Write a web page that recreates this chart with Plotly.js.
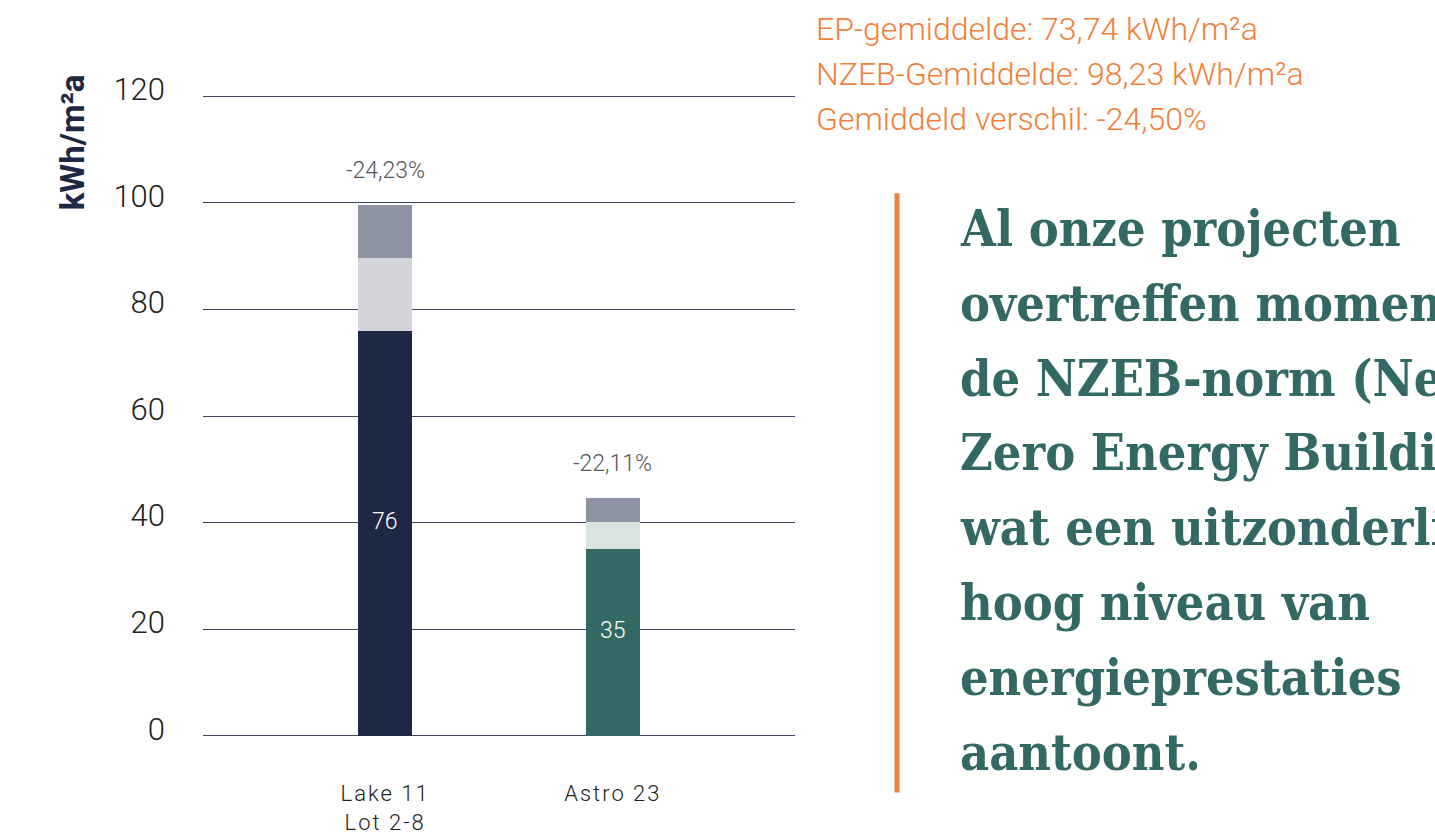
<!DOCTYPE html>
<html><head><meta charset="utf-8">
<script src="https://cdn.plot.ly/plotly-3.0.1.min.js"></script>
<style>body{margin:0;background:#fff}#c{width:1435px;height:836px}
.xtick text{letter-spacing:2px}</style>
</head><body><div id="c"></div>
<script>
const categories = ["Lake 11<br>Lot 2-8", "Astro 23"];
const epValues = [76, 35];
const marginValues = [13.7, 5.1];
const nzebTopValues = [9.9, 4.6];
const pctLabels = ["-24,23%", "-22,11%"];
const baseColors = ["#1E2744", "#336964"];
const midColors = ["#D3D4D9", "#D9E3E1"];
const topColor = "#8D93A2";
const yTicks = [0, 20, 40, 60, 80, 100, 120];
const statLines = ["EP-gemiddelde: 73,74 kWh/m²a", "NZEB-Gemiddelde: 98,23 kWh/m²a", "Gemiddeld verschil: -24,50%"];
const quoteLines = ["Al onze projecten", "overtreffen momenteel", "de NZEB-norm (Nearly", "Zero Energy Building),", "wat een uitzonderlijk", "hoog niveau van", "energieprestaties", "aantoont."];

const W = 1435, H = 836;
// plot area in pixels: y=0 at 736, y=120 at 96 ; range padded by 1 unit each side
const unit = 640 / 120;
const L = 203, R = 795, T = 96 - unit, B = 736 + unit;
const px = x => (x - L) / (R - L);
const py = y => (B - y) / (B - T);

const traces = [
  {type:'bar', x:categories, y:epValues, marker:{color:baseColors}, width:0.237, hoverinfo:'skip'},
  {type:'bar', x:categories, y:marginValues, marker:{color:midColors}, width:0.237, hoverinfo:'skip'},
  {type:'bar', x:categories, y:nzebTopValues, marker:{color:topColor}, width:0.237, hoverinfo:'skip'}
];

const ann = [];
categories.forEach((c, i) => {
  const total = epValues[i] + marginValues[i] + nzebTopValues[i];
  ann.push({x:c, y:total, xref:'x', yref:'y', text:pctLabels[i], showarrow:false,
    yanchor:'bottom', yshift:19, font:{family:'Roboto', size:23, color:'#555', weight:300}});
  ann.push({x:c, y:epValues[i]/2, xref:'x', yref:'y', text:String(epValues[i]), showarrow:false,
    yshift:12, font:{family:'Roboto', size:23, color:'#fff', weight:300}});
});
ann.push({x:px(72), y:py(142), xref:'paper', yref:'paper', xanchor:'center', yanchor:'middle',
  text:'<b>kWh/m²a</b>', textangle:-90,
  showarrow:false, font:{family:'Roboto', size:33, color:'#1E2744'}});
statLines.forEach((s, i) => ann.push({x:px(814), y:py(29 + i*45), xref:'paper', yref:'paper',
  xanchor:'left', yanchor:'middle', text:s, showarrow:false,
  font:{family:'Roboto', size:32, color:'#F07F3C', weight:300}}));
quoteLines.forEach((s, i) => ann.push({x:px(958), y:py(228 + i*75), xref:'paper', yref:'paper',
  xanchor:'left', yanchor:'middle', text:'<b>'+s+'</b>', showarrow:false,
  font:{family:'DejaVu Serif Condensed, DejaVu Serif', size:50, color:'#336964'}}));

const layout = {
  width:W, height:H, barmode:'stack', showlegend:false,
  paper_bgcolor:'#fff', plot_bgcolor:'#fff',
  margin:{l:L, r:W-R, t:T, b:H-B, pad:0},
  xaxis:{type:'category', range:[-0.8, 1.8], showgrid:false, zeroline:false, showline:false,
    ticks:'', ticklabelstandoff:37, tickfont:{family:'Roboto', size:22, color:'#222', weight:300}, fixedrange:true},
  yaxis:{range:[-1, 121], tickvals:yTicks, ticktext:yTicks.map(String), showgrid:true,
    gridcolor:'#3A4462', gridwidth:1, zeroline:true, zerolinecolor:'#3A4462', zerolinewidth:1,
    showline:false, ticks:'', ticklabelstandoff:37, ticklabelshift:-7,
    tickfont:{family:'Roboto', size:31, color:'#222', weight:300}, fixedrange:true},
  annotations:ann,
  shapes:[{type:'line', xref:'paper', yref:'paper', x0:px(897), x1:px(897), y0:py(193), y1:py(793),
    line:{color:'#F07F3C', width:5}}]
};
Plotly.newPlot('c', traces, layout, {displayModeBar:false, staticPlot:true});
</script></body></html>
